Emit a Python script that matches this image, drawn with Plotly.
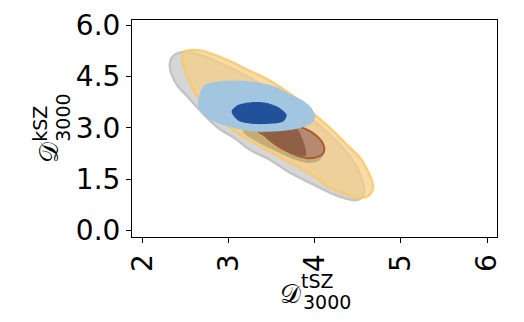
import plotly.graph_objects as go

# Tick labels
x_ticks = [2, 3, 4, 5, 6]
x_ticktext = ["2", "3", "4", "5", "6"]
y_ticks = [0.0, 1.5, 3.0, 4.5, 6.0]
y_ticktext = ["0.0", "1.5", "3.0", "4.5", "6.0"]

# Contour outlines (D_tSZ, D_kSZ)
gray95_x = [2.317, 2.329, 2.364, 2.422, 2.503, 2.666, 2.899, 3.248, 3.597, 3.945, 4.236, 4.434,
            4.550, 4.573, 4.527, 4.458, 4.353, 4.178, 3.945, 3.713, 3.480, 3.248, 3.073, 2.876,
            2.643, 2.527, 2.410, 2.341, 2.317]
gray95_y = [4.834, 4.980, 5.111, 5.184, 5.213, 5.125, 4.892, 4.454, 3.929, 3.288, 2.646, 2.063,
            1.479, 1.100, 0.925, 0.881, 0.939, 1.100, 1.391, 1.683, 2.063, 2.354, 2.690, 2.996,
            3.579, 3.900, 4.221, 4.542, 4.834]

orange95_x = [2.460, 2.469, 2.503, 2.573, 2.690, 2.841, 3.038, 3.224, 3.422, 3.597, 3.806, 4.003,
              4.178, 4.376, 4.527, 4.620, 4.677, 4.666, 4.608, 4.492, 4.376, 4.178, 3.945, 3.713,
              3.399, 3.097, 2.841, 2.643, 2.550, 2.492, 2.460]
orange95_y = [4.980, 5.154, 5.242, 5.271, 5.251, 5.125, 4.921, 4.688, 4.454, 4.192, 3.813, 3.375,
              2.996, 2.500, 2.121, 1.712, 1.333, 1.129, 0.983, 0.939, 1.042, 1.246, 1.654, 1.975,
              2.412, 2.850, 3.346, 3.871, 4.338, 4.659, 4.980]

olive68_x = [3.166, 3.329, 3.515, 3.713, 3.910, 4.027, 4.097, 4.038, 3.829, 3.538, 3.271, 3.166]
olive68_y = [2.888, 2.588, 2.354, 2.121, 1.975, 2.004, 2.179, 2.646, 2.996, 3.113, 3.054, 2.888]

brown95_x = [3.341, 3.422, 3.515, 3.713, 3.910, 4.038, 4.108, 4.097, 3.992, 3.864, 3.655, 3.457, 3.341]
brown95_y = [2.908, 2.763, 2.558, 2.267, 2.112, 2.150, 2.296, 2.529, 2.821, 2.996, 3.113, 3.083, 2.908]

brown68_x = [3.387, 3.457, 3.597, 3.760, 3.899, 3.887, 3.852, 3.794, 3.655, 3.480, 3.387]
brown68_y = [2.908, 2.704, 2.442, 2.238, 2.179, 2.442, 2.704, 2.967, 3.083, 3.054, 2.908]

blue95_x = [2.724, 2.879, 3.112, 3.344, 3.538, 3.693, 3.849, 3.965, 4.003, 3.984, 3.887, 3.733,
            3.538, 3.306, 3.073, 2.879, 2.724, 2.647, 2.655, 2.686, 2.724]
blue95_y = [4.250, 4.347, 4.376, 4.317, 4.201, 4.008, 3.813, 3.571, 3.326, 3.180, 3.034, 2.938,
            2.888, 2.888, 2.987, 3.133, 3.326, 3.617, 3.909, 4.125, 4.250]

blue68_x = [3.035, 3.112, 3.267, 3.460, 3.597, 3.674, 3.635, 3.460, 3.267, 3.112, 3.035]
blue68_y = [3.471, 3.667, 3.746, 3.716, 3.571, 3.375, 3.180, 3.113, 3.113, 3.209, 3.471]

layers = [
    (gray95_x, gray95_y, "rgb(214,214,214)", "rgb(196,196,196)", 2.5),
    (orange95_x, orange95_y, "rgba(245,205,130,0.72)", "rgba(248,200,110,0.85)", 2.5),
    (olive68_x, olive68_y, "rgb(196,172,118)", "rgba(0,0,0,0)", 0),
    (brown95_x, brown95_y, "rgb(181,138,112)", "rgb(164,88,44)", 1.8),
    (brown68_x, brown68_y, "rgb(143,95,70)", "rgba(0,0,0,0)", 0),
    (blue95_x, blue95_y, "rgb(163,198,224)", "rgba(0,0,0,0)", 0),
    (blue68_x, blue68_y, "rgb(33,81,155)", "rgba(0,0,0,0)", 0),
]

fig = go.Figure()
for xs, ys, fillc, linec, lw in layers:
    fig.add_trace(go.Scatter(
        x=xs, y=ys, mode="lines", fill="toself", fillcolor=fillc,
        line=dict(color=linec, width=lw, shape="spline", smoothing=0.8),
        hoverinfo="skip", showlegend=False))

tick_font = dict(family="DejaVu Sans", size=28, color="black")
fig.update_layout(
    width=524, height=322,
    margin=dict(l=124, r=35, t=12, b=93, autoexpand=False),
    paper_bgcolor="white", plot_bgcolor="white",
    showlegend=False,
    xaxis=dict(range=[1.879, 6.116], tickvals=x_ticks, ticktext=x_ticktext, tickangle=-90,
               ticks="outside", ticklen=5, tickcolor="black", showline=True, mirror=True,
               linecolor="black", linewidth=1, showgrid=False, zeroline=False, tickfont=tick_font,
               automargin=False),
    yaxis=dict(range=[-0.193, 6.146], tickvals=y_ticks, ticktext=y_ticktext,
               ticks="outside", ticklen=5, tickcolor="black", showline=True, mirror=True,
               linecolor="black", linewidth=1, showgrid=False, zeroline=False, tickfont=tick_font,
               automargin=False),
)

big = dict(family="DejaVu Serif", size=26, color="black")
small = dict(family="DejaVu Sans", size=19, color="black")
ann = [
    dict(text="𝒟", x=0.433, y=-0.262, font=big, textangle=0),
    dict(text="tSZ", x=0.507, y=-0.205, font=small, textangle=0),
    dict(text="3000", x=0.534, y=-0.300, font=small, textangle=0),
    dict(text="𝒟", x=-0.228, y=0.392, font=big, textangle=-90),
    dict(text="kSZ", x=-0.252, y=0.522, font=small, textangle=-90),
    dict(text="3000", x=-0.190, y=0.548, font=small, textangle=-90),
]
for a in ann:
    fig.add_annotation(xref="paper", yref="paper", showarrow=False,
                       xanchor="center", yanchor="middle", **a)

fig.write_html("out.html")
